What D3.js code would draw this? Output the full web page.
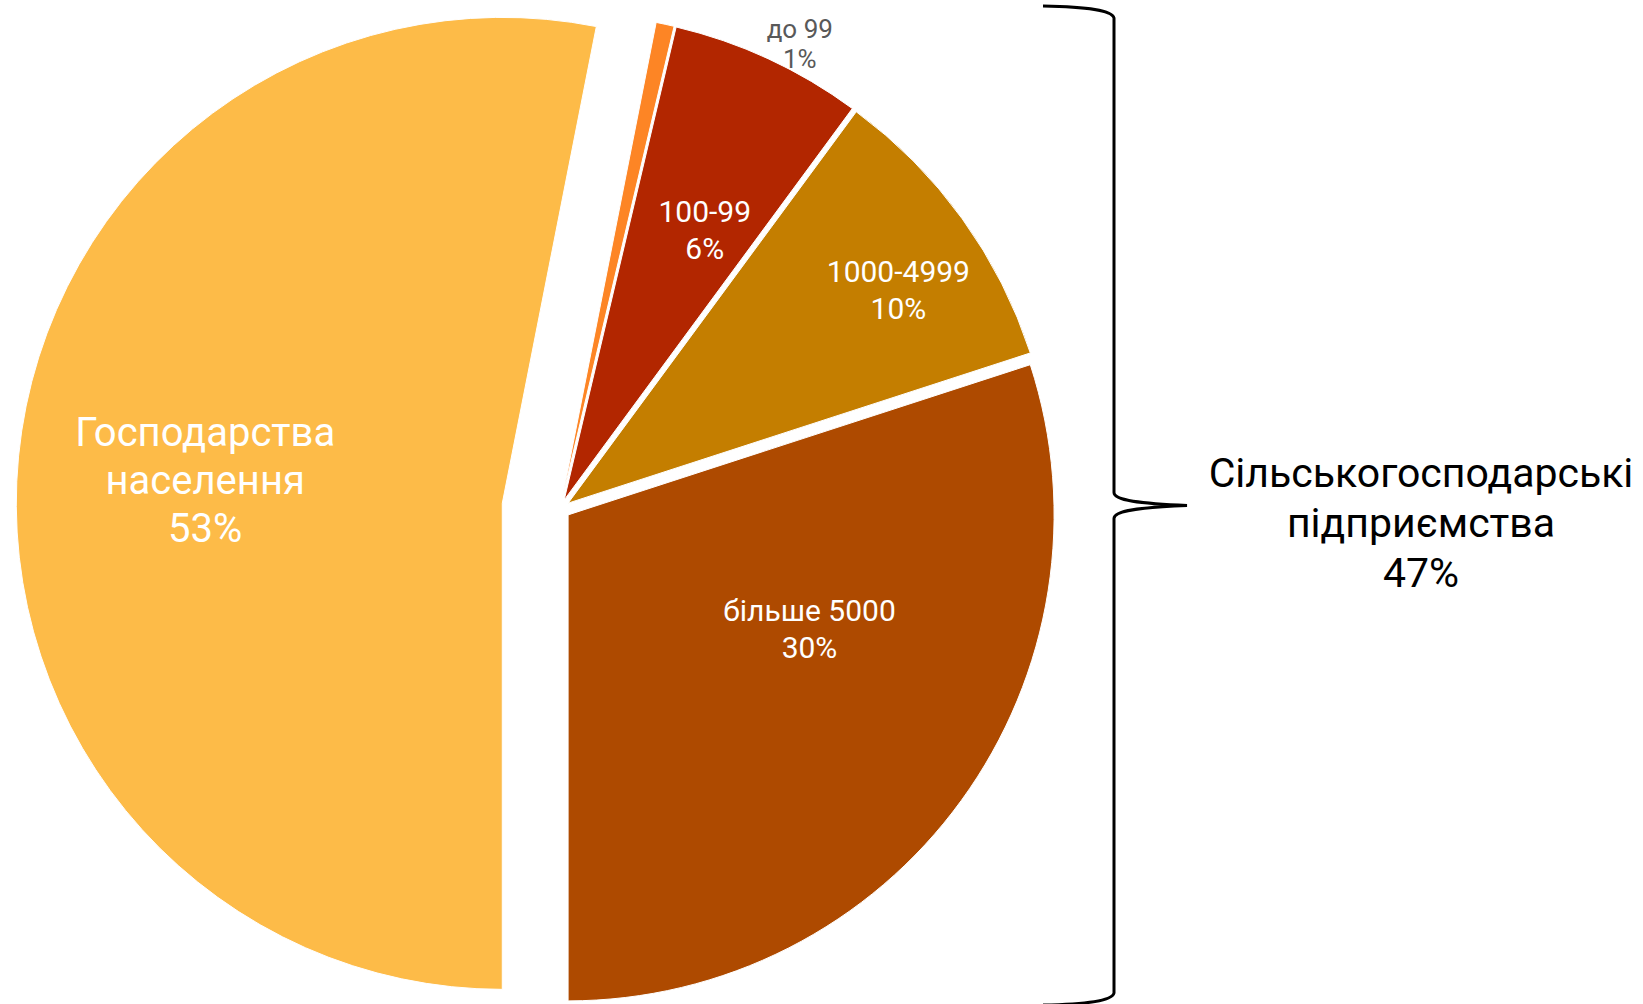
<!DOCTYPE html>
<html lang="uk">
<head>
<meta charset="UTF-8">
<title>Структура виробництва</title>
<script src="https://cdn.jsdelivr.net/npm/d3@7"></script>
<style>
  body { margin: 0; background: #fff; }
  text { font-family: Roboto, "Noto Sans", sans-serif; }
</style>
</head>
<body>
<script>

var width = 1643,
    height = 1004

// data
var categories = ["Господарства\nнаселення", "до 99", "100-99", "1000-4999", "більше 5000"]
var values = [53.1, 0.6, 6.4, 9.9, 30.0]
var groupName = ["Сільськогосподарські", "підприємства"]
var groupMembers = [1, 2, 3, 4]

// style
var colors = ["#FDBB48", "#FD8525", "#B22600", "#C47E00", "#AE4A00"]
var labelColors = ["#ffffff", "#595959", "#ffffff", "#ffffff", "#ffffff"]
var fontSizes = [40, 26, 30, 30, 30]
var lineHeights = [48, 30, 37, 37, 37]
var explode = [58, 10, 10, 10, 10]
var labelShift = [-1, 15.3, 2.7, 3.0, -10.7]   // degrees from slice middle
var labelRadius = [298, 514, 304, 393, 267]

var radius = 486
var cx = 560, cy = 509

var svg = d3.select("body").append("svg")
    .attr("width", width)
    .attr("height", height)

var pie = d3.pie().sort(null).startAngle(Math.PI).endAngle(3 * Math.PI)
var arc = d3.arc().innerRadius(0).outerRadius(radius)

var arcs = pie(values)

var slices = svg.selectAll("g.slice").data(arcs).enter()
    .append("g")
    .attr("class", "slice")
    .attr("transform", function(d, i) {
      var mid = (d.startAngle + d.endAngle) / 2
      var ox = explode[i] * Math.sin(mid),
          oy = -explode[i] * Math.cos(mid)
      return "translate(" + (cx + ox) + "," + (cy + oy) + ")"
    })

slices.append("path")
    .attr("d", arc)
    .style("fill", function(d, i) { return colors[i] })
    .style("stroke", "#fff")
    .style("stroke-width", 1)

function pct(v) { return Math.round(v) + "%" }

slices.each(function(d, i) {
  var mid = (d.startAngle + d.endAngle) / 2 + labelShift[i] * Math.PI / 180
  var r = labelRadius[i]
  var pos = d3.arc().innerRadius(r).outerRadius(r)
      .centroid({startAngle: mid, endAngle: mid})
  var lines = categories[i].split("\n").concat([pct(values[i])])
  var fs = fontSizes[i], lh = lineHeights[i]
  var t = d3.select(this).append("text")
      .attr("transform", "translate(" + pos[0] + "," + pos[1] + ")")
      .attr("text-anchor", "middle")
      .style("font-size", fs + "px")
      .style("fill", labelColors[i])
  t.selectAll("tspan").data(lines).enter()
      .append("tspan")
      .attr("x", 0)
      .attr("y", function(l, k) { return -(lines.length - 1) * lh / 2 + k * lh + 0.35 * fs })
      .text(function(l) { return l })
})

// brace around the enterprise slices
var bx = 1114, braceTop = 6, braceBottom = 1005, tipX = 1187
var midY = (braceTop + braceBottom) / 2
var brace = "M" + (bx - 71) + "," + braceTop +
    " C" + (bx - 25) + "," + (braceTop + 1) + " " + (bx - 2) + "," + (braceTop + 4) + " " + bx + "," + (braceTop + 12) +
    " L" + bx + "," + (midY - 13) +
    " C" + bx + "," + (midY - 5) + " " + (bx + 25) + "," + (midY - 2) + " " + tipX + "," + midY +
    " C" + (bx + 25) + "," + (midY + 2) + " " + bx + "," + (midY + 5) + " " + bx + "," + (midY + 13) +
    " L" + bx + "," + (braceBottom - 12) +
    " C" + (bx - 2) + "," + (braceBottom - 4) + " " + (bx - 25) + "," + (braceBottom - 1) + " " + (bx - 71) + "," + braceBottom

svg.append("path")
    .attr("d", brace)
    .style("fill", "none")
    .style("stroke", "#000")
    .style("stroke-width", 3)

var groupTotal = d3.sum(groupMembers, function(i) { return values[i] })
var groupLines = groupName.concat([pct(groupTotal)])

svg.append("text")
    .attr("transform", "translate(1421," + 523 + ")")
    .attr("text-anchor", "middle")
    .style("font-size", "41px")
    .style("fill", "#000")
  .selectAll("tspan").data(groupLines).enter()
    .append("tspan")
    .attr("x", 0)
    .attr("y", function(l, k) { return -(groupLines.length - 1) * 50 / 2 + k * 50 + 0.35 * 41 })
    .text(function(l) { return l })

</script>
</body>
</html>
